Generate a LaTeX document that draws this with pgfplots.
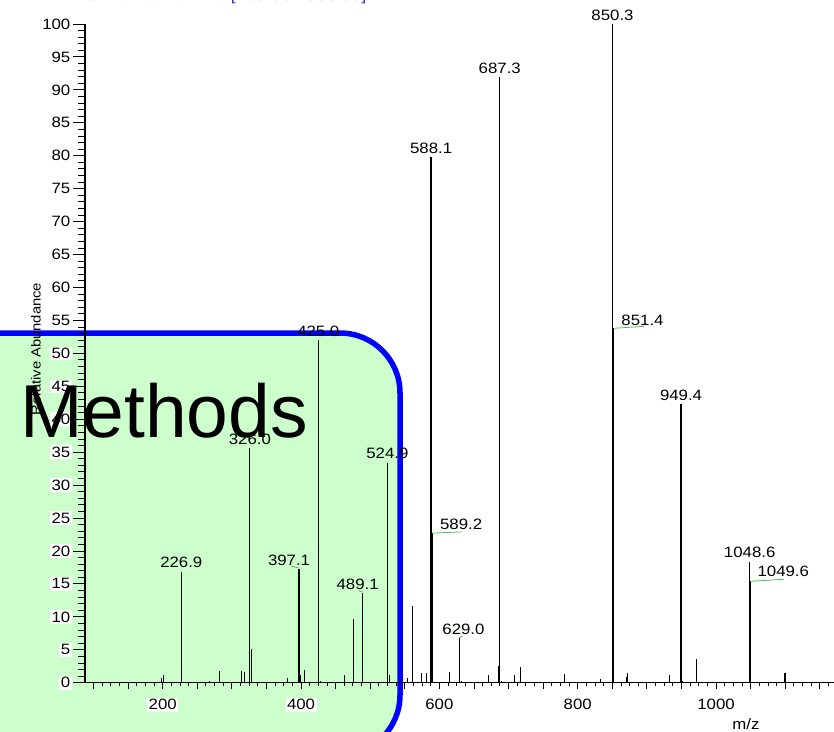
\documentclass[border=0pt]{standalone}
\usepackage{pgfplots}
\pgfplotsset{compat=1.18}
\usepackage{fontspec}
\setmainfont{Liberation Sans}
\newfontfamily\labfont{Liberation Sans}[FakeStretch=1.12]
\definecolor{boxgreen}{HTML}{CCFFCC}
\definecolor{leader}{HTML}{55BB55}
\definecolor{hdrblue}{HTML}{3333CC}
\newcommand{\lab}{\labfont\fontsize{15}{15}\selectfont}
\begin{document}
\begin{tikzpicture}
\path[use as bounding box, clip] (0pt,-731pt) rectangle (834pt,0pt);
\fill[white] (0pt,-731pt) rectangle (834pt,0pt);
\draw[blue, line width=5.5pt, fill=boxgreen, rounded corners=60pt] (-60pt,-333pt) rectangle (400pt,-755pt);
\node[anchor=base west, inner sep=0pt, text=hdrblue!60, font=\labfont\fontsize{16}{16}\selectfont] at (57pt,-0.2pt) {ITMS + c ESI Full ms \textcolor{hdrblue}{[150.00-2000.00]}};
\begin{axis}[
  at={(85pt,-682.7pt)}, anchor=south west,
  scale only axis, width=749pt, height=658.7pt,
  xmin=87.7, xmax=1170.5, ymin=0, ymax=100,
  clip=false,
  axis x line=bottom, axis y line=left,
  axis line style={-, line width=1.2pt, black},
  tick align=outside,
  major tick length=12pt, minor tick length=7pt,
  tick style={line width=0.9pt, black},
  xtick style={/pgfplots/major tick length=6pt, /pgfplots/minor tick length=3pt},
  xtick={200,400,600,800,1000},
  extra x ticks={100,150,250,300,350,450,500,550,650,700,750,850,900,950,1050,1100,1150},
  extra x tick labels={},
  extra x tick style={xticklabel style={fill=none}, /pgfplots/major tick length=6pt},
  minor xtick={100,112.5,...,1162.5},
  ytick={0,5,...,100},
  minor y tick num=4,
  /pgf/number format/assume math mode=true,
  /pgf/number format/1000 sep={},
  ticklabel style={font=\lab, fill=white, inner sep=1.5pt},
  xticklabel style={yshift=-3pt},
  yticklabel style={xshift=-1pt},
]
\addplot[ycomb, line width=1.3pt, black, mark=none] coordinates {
(226.9,16.85) (326.0,35.6) (397.1,17.2) (425.0,52.0) (489.1,13.6) (524.9,33.4)
(588.1,79.8) (589.2,22.7) (629.0,6.8) (687.3,91.95) (850.3,100) (851.4,53.8)
(949.4,42.3) (1048.6,18.4) (1049.6,15.4)
};
\addplot[ycomb, line width=1pt, black, mark=none] coordinates {
(199.0,0.7) (200.5,1.1) (268.4,0.3) (282.4,1.8) (313.3,1.8) (317.6,1.6) (328.2,5.1)
(379.8,0.7) (399.3,1.1) (404.8,2.0) (428.5,0.2) (463.2,1.1) (475.2,9.7) (527.7,1.1)
(554.2,0.7) (560.7,11.7) (573.5,1.4) (581.7,1.4) (614.9,1.6) (632.3,0.2) (670.9,1.1)
(684.8,2.5) (690.0,0.3) (708.4,1.1) (716.6,2.4) (780.7,1.3) (832.7,0.6) (870.3,0.9)
(872.3,1.4) (932.5,1.1) (952.0,0.2) (972.0,3.6) (1098.3,1.4) (1100.7,1.4)
};
\draw[leader, line width=0.8pt] (axis cs:851.4,53.8) -- (axis cs:896,54.1);
\draw[leader, line width=0.8pt] (axis cs:589.2,22.7) -- (axis cs:632,22.9);
\draw[leader, line width=0.8pt] (axis cs:1049.6,15.4) -- (axis cs:1098,15.7);
\draw[leader, line width=0.8pt] (axis cs:397.1,17.4) -- (axis cs:386,17.7);
\draw[leader, line width=0.8pt] (axis cs:489.1,13.75) -- (axis cs:483.5,13.95);
\draw[leader, line width=0.8pt] (axis cs:628.5,6.85) -- (axis cs:634,7.1);
\begin{scope}[every node/.style={font=\lab, inner sep=0pt}]
\node[anchor=south, yshift=3.5pt] at (axis cs:850.3,100) {850.3};
\node[anchor=south, yshift=3.5pt] at (axis cs:687.3,91.95) {687.3};
\node[anchor=south, yshift=3.5pt] at (axis cs:588.1,79.8) {588.1};
\node[anchor=south, yshift=3.5pt] at (axis cs:425.0,52.0) {425.0};
\node[anchor=south, yshift=3.5pt] at (axis cs:949.4,42.3) {949.4};
\node[anchor=south, yshift=3.5pt] at (axis cs:326.0,35.6) {326.0};
\node[anchor=south, yshift=3.5pt] at (axis cs:524.9,33.4) {524.9};
\node[anchor=south, yshift=3.5pt] at (axis cs:226.9,16.85) {226.9};
\node[anchor=south, yshift=3.5pt, xshift=-10pt] at (axis cs:397.1,17.2) {397.1};
\node[anchor=south, yshift=3.5pt, xshift=-5pt] at (axis cs:489.1,13.6) {489.1};
\node[anchor=south, yshift=3.5pt, xshift=4pt] at (axis cs:629.0,6.8) {629.0};
\node[anchor=south, yshift=3.5pt] at (axis cs:1048.6,18.4) {1048.6};
\node[anchor=south west, yshift=2pt, xshift=8pt] at (axis cs:851.4,53.8) {851.4};
\node[anchor=south west, yshift=3pt, xshift=8pt] at (axis cs:589.2,22.7) {589.2};
\node[anchor=south west, yshift=4pt, xshift=7pt] at (axis cs:1049.6,15.4) {1049.6};
\end{scope}
\end{axis}
\node[rotate=90, font=\labfont\fontsize{13.2}{13.2}\selectfont, inner sep=0pt] at (36pt,-349pt) {Relative Abundance};
\node[font=\lab, inner sep=0pt] at (746pt,-724pt) {m/z};
\node[anchor=base west, inner sep=0pt, font=\fontsize{75}{75}\selectfont] at (20pt,-437pt) {Methods};
\end{tikzpicture}
\end{document}
